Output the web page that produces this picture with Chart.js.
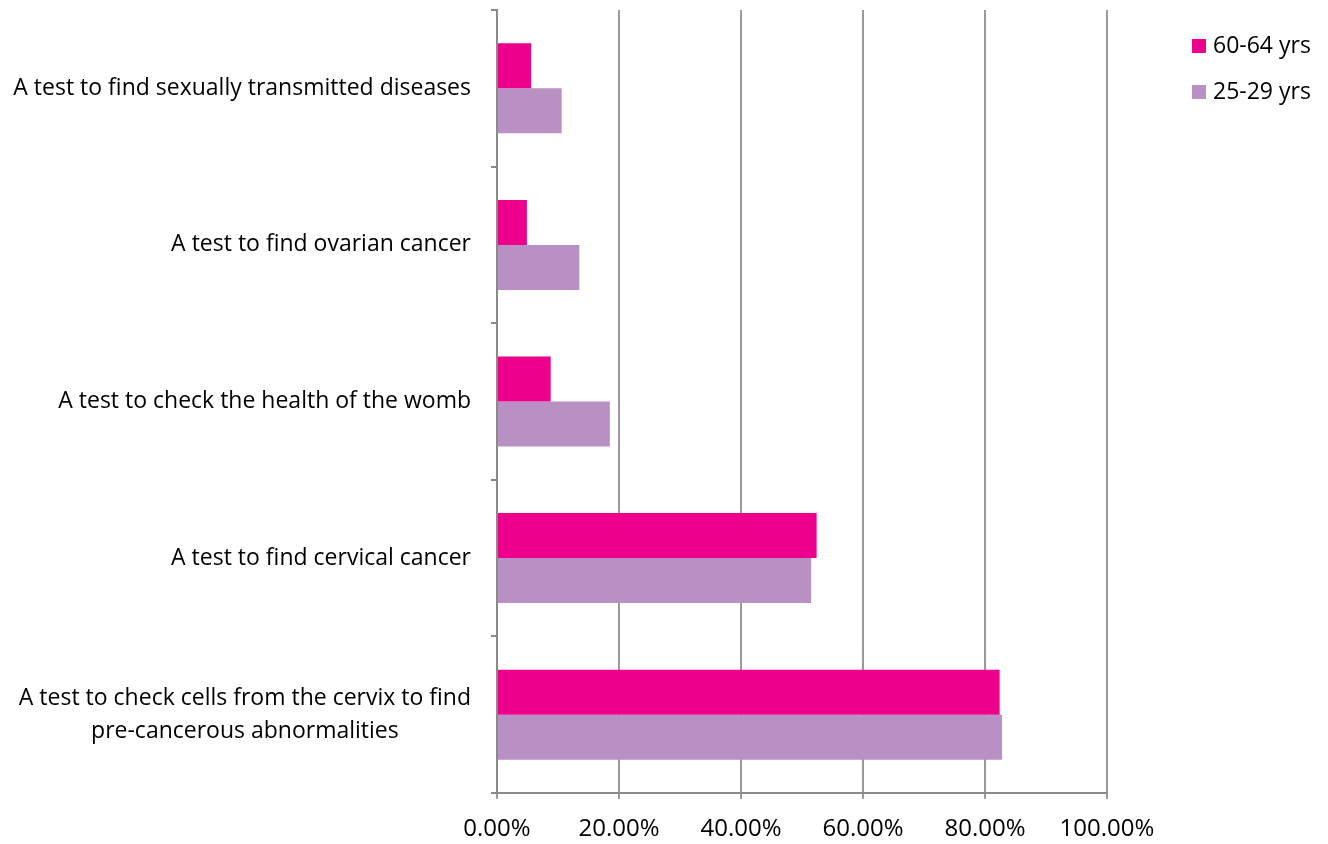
<!DOCTYPE html>
<html>
<head>
<meta charset="utf-8">
<script src="https://cdn.jsdelivr.net/npm/chart.js@4.4.0/dist/chart.umd.min.js"></script>
<style>
  html, body { margin: 0; padding: 0; background: #ffffff; }
  #wrap { position: relative; width: 1328px; height: 844px; }
</style>
</head>
<body>
<div id="wrap"><canvas id="chart" width="1328" height="844"></canvas></div>
<script>
// Survey answers: what women think the screening test is for
const categories = [
  ['A test to find sexually transmitted diseases'],
  ['A test to find ovarian cancer'],
  ['A test to check the health of the womb'],
  ['A test to find cervical cancer'],
  ['A test to check cells from the cervix to find', 'pre-cancerous abnormalities']
];
const seriesNames = ['60-64 yrs', '25-29 yrs'];
const olderWomen = [5.6, 4.9, 8.8, 52.4, 82.4];    // 60-64 yrs, %
const youngerWomen = [10.6, 13.5, 18.5, 51.5, 82.8]; // 25-29 yrs, %
const xTickValues = [0, 20, 40, 60, 80, 100];
const seriesColors = ['#EC008C', '#B990C4'];

const FONT = '"Open Sans", "Noto Sans", sans-serif';
const LABEL_SIZE = 23;
const TICK_SIZE = 24;

// Category labels: right-aligned block, wrapped lines centred on each other
const categoryLabels = {
  id: 'categoryLabels',
  afterDraw(chart) {
    const ctx = chart.ctx;
    const y = chart.scales.y;
    const rightEdge = chart.chartArea.left - 26;
    const lineHeight = 33;
    ctx.save();
    ctx.font = LABEL_SIZE + 'px ' + FONT;
    ctx.fillStyle = '#000000';
    ctx.textBaseline = 'middle';
    ctx.textAlign = 'center';
    categories.forEach((lines, i) => {
      const cy = y.getPixelForValue(i);
      const w = Math.max(...lines.map(l => ctx.measureText(l).width));
      const cx = rightEdge - w / 2;
      const top = cy - (lines.length - 1) * lineHeight / 2;
      lines.forEach((l, k) => ctx.fillText(l, cx, top + k * lineHeight));
    });
    ctx.restore();
  }
};

// Series key at the upper right
const sideLegend = {
  id: 'sideLegend',
  afterDraw(chart) {
    const ctx = chart.ctx;
    const x0 = chart.chartArea.right + 85;
    const y0 = 46;
    const gap = 46;
    ctx.save();
    ctx.font = LABEL_SIZE + 'px ' + FONT;
    ctx.textBaseline = 'middle';
    ctx.textAlign = 'left';
    chart.data.datasets.forEach((ds, i) => {
      const cy = y0 + i * gap;
      ctx.fillStyle = ds.backgroundColor;
      ctx.fillRect(x0, cy - 7, 14, 14);
      ctx.fillStyle = '#000000';
      ctx.fillText(ds.label, x0 + 21, cy);
    });
    ctx.restore();
  }
};

new Chart(document.getElementById('chart'), {
  type: 'bar',
  data: {
    labels: categories.map(c => c.join(' ')),
    datasets: [
      { label: seriesNames[0], data: olderWomen, backgroundColor: seriesColors[0] },
      { label: seriesNames[1], data: youngerWomen, backgroundColor: seriesColors[1] }
    ]
  },
  options: {
    indexAxis: 'y',
    responsive: false,
    animation: false,
    layout: { padding: { top: 10, right: 221, left: 0, bottom: 0 } },
    datasets: { bar: { categoryPercentage: 0.575, barPercentage: 1.0 } },
    plugins: {
      legend: { display: false },
      tooltip: { enabled: false }
    },
    scales: {
      x: {
        min: 0,
        max: 100,
        afterBuildTicks: s => { s.ticks = xTickValues.map(v => ({ value: v })); },
        afterFit: s => { s.height = 51; },
        ticks: {
          callback: v => Number(v).toFixed(2) + '%',
          color: '#000000',
          font: { family: FONT, size: TICK_SIZE },
          padding: 16,
          maxRotation: 0
        },
        grid: { color: '#9a9a9a', lineWidth: 2, tickLength: 6, drawOnChartArea: true },
        border: { color: '#8a8a8a', width: 2 }
      },
      y: {
        afterFit: s => { s.width = 497; },
        ticks: { display: false },
        grid: { color: '#8a8a8a', lineWidth: 2, tickLength: 6, drawOnChartArea: false, offset: true },
        border: { color: '#8a8a8a', width: 2 }
      }
    }
  },
  plugins: [categoryLabels, sideLegend]
});
</script>
</body>
</html>
